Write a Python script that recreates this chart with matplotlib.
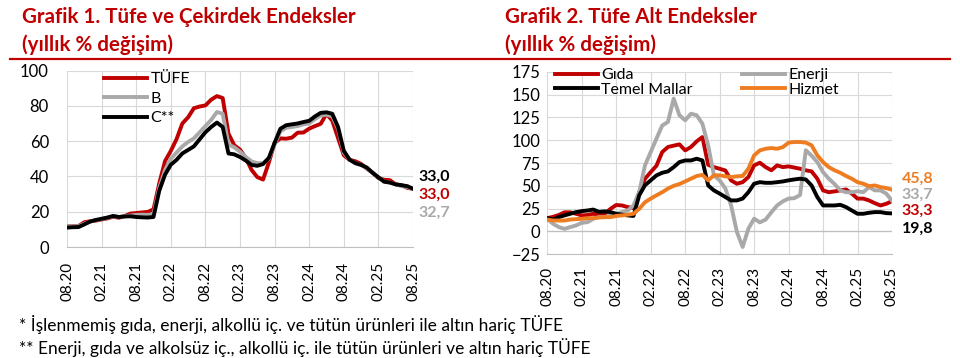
import numpy as np
import matplotlib
matplotlib.use("Agg")
import matplotlib.pyplot as plt

plt.rcParams["font.family"] = ["Lato", "DejaVu Sans"]

# aylik veriler, 08.20 - 08.25
x_labels = ["08.20", "02.21", "08.21", "02.22", "08.22", "02.23",
            "08.23", "02.24", "08.24", "02.25", "08.25"]

tufe = [11.77, 11.75, 11.89, 14.03, 14.60, 14.97, 15.61, 16.19, 17.14, 16.59, 17.53, 18.95,
        19.25, 19.58, 19.89, 21.31, 36.08, 48.69, 54.44, 61.14, 69.97, 73.50, 78.62, 79.60,
        80.21, 83.45, 85.51, 84.39, 64.27, 57.68, 55.18, 50.51, 43.68, 39.59, 38.21, 47.83,
        58.94, 61.53, 61.36, 61.98, 64.77, 64.86, 67.07, 68.50, 69.80, 75.45, 71.60, 61.78,
        51.97, 49.38, 48.58, 47.09, 44.38, 42.12, 39.05, 38.10, 37.86, 35.41, 35.05, 33.52,
        32.95]
b_index = [11.8, 11.6, 11.8, 13.2, 14.4, 15.2, 15.8, 16.5, 17.4, 17.0, 17.4, 17.8,
           18.2, 18.3, 18.2, 18.6, 33.5, 43.5, 50.0, 53.5, 57.0, 59.5, 61.5, 65.0,
           68.5, 72.0, 76.5, 75.5, 58.0, 56.5, 54.0, 51.0, 48.5, 47.5, 47.5, 50.0,
           58.0, 65.5, 67.5, 68.0, 68.5, 69.5, 70.0, 72.5, 74.5, 75.0, 74.0, 67.0,
           53.5, 49.5, 47.5, 46.5, 44.5, 42.0, 39.5, 37.0, 36.5, 35.5, 34.5, 34.0,
           32.7]
c_index = [11.0, 11.2, 11.3, 12.8, 14.4, 15.3, 16.0, 16.7, 17.6, 17.0, 17.3, 17.4,
           17.0, 16.8, 16.7, 17.0, 31.9, 41.0, 46.6, 49.4, 53.0, 55.0, 57.0, 61.0,
           65.0, 68.0, 70.5, 68.0, 53.0, 52.5, 51.0, 49.0, 46.5, 46.0, 47.0, 50.5,
           59.0, 67.0, 69.0, 69.5, 70.0, 70.8, 71.5, 74.0, 76.0, 76.3, 75.5, 68.0,
           54.5, 49.5, 47.5, 46.5, 45.0, 42.0, 39.5, 37.0, 36.5, 35.5, 35.0, 34.5,
           33.0]

gida = [14.6, 16.0, 18.0, 21.0, 21.0, 19.4, 17.6, 18.0, 19.4, 18.4, 19.4, 24.8,
        29.0, 28.5, 26.7, 25.5, 43.0, 57.7, 65.0, 72.0, 87.0, 92.5, 94.0, 95.4,
        88.8, 92.5, 98.7, 103.4, 73.0, 70.5, 68.7, 66.8, 55.9, 52.3, 54.0, 59.6,
        72.4, 75.3, 70.5, 67.0, 72.4, 70.5, 71.3, 70.0, 68.7, 67.0, 65.8, 57.8,
        45.0, 43.0, 43.9, 45.0, 46.0, 41.5, 36.0, 36.0, 34.0, 31.0, 28.5, 30.3,
        33.3]
enerji = [13.9, 8.4, 4.8, 2.9, 4.8, 6.6, 9.5, 10.2, 13.9, 15.7, 15.7, 17.6,
          19.4, 21.2, 23.0, 28.5, 43.0, 72.4, 87.0, 101.7, 116.0, 120.0, 145.5, 127.3,
          121.8, 129.0, 127.3, 118.0, 94.3, 61.5, 56.0, 47.0, 28.5, -0.5, -17.0, 3.0,
          14.0, 10.0, 13.0, 21.0, 28.5, 33.0, 36.0, 36.5, 40.0, 89.0, 83.0, 76.0,
          65.0, 57.8, 52.0, 45.0, 43.0, 43.0, 44.0, 43.0, 48.6, 45.0, 45.0, 41.5,
          33.7]
temel_mallar = [14.6, 13.1, 15.7, 17.6, 19.4, 21.2, 22.3, 23.0, 24.0, 21.5, 22.0, 21.2,
                19.4, 18.4, 17.6, 17.0, 39.6, 50.6, 56.0, 61.4, 64.3, 65.8, 70.5, 76.0,
                77.8, 77.8, 79.7, 77.8, 50.4, 45.0, 41.5, 37.7, 34.0, 34.0, 36.0, 43.0,
                52.3, 54.0, 53.3, 53.3, 54.0, 54.8, 56.0, 57.0, 57.8, 57.0, 50.4, 37.7,
                28.5, 28.5, 28.5, 29.2, 26.7, 23.0, 19.4, 19.4, 20.5, 21.2, 21.2, 20.1,
                19.8]
hizmet = [13.1, 12.0, 12.0, 12.0, 13.1, 13.5, 13.9, 14.6, 14.6, 15.4, 15.7, 15.7,
          17.0, 17.6, 18.4, 19.4, 24.8, 32.0, 36.0, 39.6, 43.0, 47.0, 50.0, 52.0,
          54.8, 57.8, 60.7, 62.0, 56.0, 61.5, 61.5, 60.4, 59.6, 60.4, 60.8, 68.7,
          83.3, 88.8, 90.6, 91.4, 90.6, 92.4, 97.3, 98.0, 98.0, 97.3, 94.4, 83.3,
          76.0, 70.5, 67.0, 64.3, 60.8, 57.8, 54.0, 52.3, 49.7, 50.4, 48.6, 47.5,
          45.8]

RED = "#c00000"
GRAY = "#a9a9a9"
BLACK = "#000000"
ORANGE = "#ee7d22"
GRID = "#d9d9d9"
LW = 2.8

months = np.arange(len(tufe))
tick_pos = np.arange(0, len(tufe), 6)

fig = plt.figure(figsize=(9.6, 3.58), dpi=100)
H = 358.0


def style_axes(ax, xpad, ypad):
    ax.set_xlim(0, 60)
    ax.set_xticks(tick_pos)
    ax.set_xticklabels(x_labels, rotation=90, fontsize=11)
    ax.tick_params(axis="x", length=0, pad=xpad)
    ax.tick_params(axis="y", length=0, pad=ypad, labelsize=12)
    ax.grid(True, color=GRID, lw=0.8)
    ax.set_axisbelow(True)
    for s in ["top", "right", "left"]:
        ax.spines[s].set_visible(False)
    ax.spines["bottom"].set_color("#bfbfbf")


# --- Grafik 1 ---
ax1 = fig.add_axes([67 / 960, (H - 247) / H, 346 / 960, 176.5 / H])
ax1.plot(months, tufe, color=RED, lw=LW, label="TÜFE")
ax1.plot(months, b_index, color=GRAY, lw=LW, label="B")
ax1.plot(months, c_index, color=BLACK, lw=LW, label="C**")
ax1.set_ylim(0, 100)
ax1.set_yticks(range(0, 101, 20))
style_axes(ax1, 11, 13)
ax1.legend(loc="upper left", bbox_to_anchor=(0.107, 0.99), frameon=False,
           fontsize=11.5, handlelength=2.7, handletextpad=0.2, labelspacing=0.33,
           borderpad=0, borderaxespad=0)
lab = dict(fontsize=11.5, fontweight="bold", va="center", clip_on=False)
ax1.text(61, 39.5, "33,0", color=BLACK, **lab)
ax1.text(61, 29.4, "33,0", color=RED, **lab)
ax1.text(61, 19.2, "32,7", color=GRAY, **lab)

# --- Grafik 2 ---
ax2 = fig.add_axes([547.3 / 960, (H - 254.3) / H, 344.7 / 960, 182.6 / H])
l_gida, = ax2.plot(months, gida, color=RED, lw=LW, label="Gıda")
l_enerji, = ax2.plot(months, enerji, color=GRAY, lw=LW, label="Enerji")
l_temel, = ax2.plot(months, temel_mallar, color=BLACK, lw=LW, label="Temel Mallar")
l_hizmet, = ax2.plot(months, hizmet, color=ORANGE, lw=LW, label="Hizmet")
ax2.set_ylim(-25, 175)
ax2.set_yticks(range(-25, 176, 25))
style_axes(ax2, 9, 5)
ax2.axhline(0, color="#bfbfbf", lw=0.9, zorder=1)
ax2.legend(handles=[l_gida, l_temel, l_enerji, l_hizmet], ncol=2,
           loc="upper left", bbox_to_anchor=(0.022, 1.02), frameon=False,
           fontsize=11.5, handlelength=2.7, handletextpad=0.2, labelspacing=0.02,
           columnspacing=3.1, borderpad=0, borderaxespad=0)
ax2.text(61.7, 57.8, "45,8", color=ORANGE, **lab)
ax2.text(61.7, 40.6, "33,7", color=GRAY, **lab)
ax2.text(61.7, 23.0, "33,3", color=RED, **lab)
ax2.text(61.7, 3.0, "19,8", color=BLACK, **lab)

# basliklar
title = dict(color=RED, fontsize=14.8, fontweight="bold", va="center")
fig.text(22 / 960, 1 - 17 / H, "Grafik 1. Tüfe ve Çekirdek Endeksler", **title)
fig.text(22 / 960, 1 - 45 / H, "(yıllık % değişim)", **title)
fig.text(505 / 960, 1 - 17 / H, "Grafik 2. Tüfe Alt Endeksler", **title)
fig.text(505 / 960, 1 - 45 / H, "(yıllık % değişim)", **title)
fig.add_artist(plt.Line2D([10 / 960, 950 / 960], [1 - 59 / H, 1 - 59 / H],
                          transform=fig.transFigure, color=RED, lw=1.6))

# dipnotlar
fig.text(19 / 960, 1 - 325 / H,
         "* İşlenmemiş gıda, enerji, alkollü iç. ve tütün ürünleri ile altın hariç TÜFE",
         fontsize=12.5, va="center")
fig.text(19 / 960, 1 - 348 / H,
         "** Enerji, gıda ve alkolsüz iç., alkollü iç. ile tütün ürünleri ve altın hariç TÜFE",
         fontsize=12.5, va="center")

fig.savefig("out.png", dpi=100)
